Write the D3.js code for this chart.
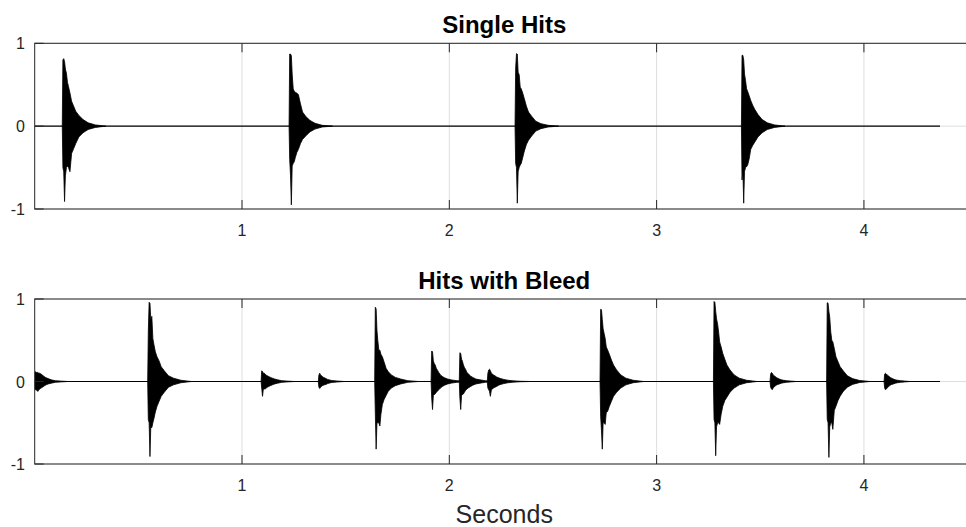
<!DOCTYPE html>
<html>
<head>
<meta charset="utf-8">
<script src="https://cdn.jsdelivr.net/npm/d3@7"></script>
<style>
  body { margin: 0; background: #fff; }
  text { font-family: "Liberation Sans", Arial, Helvetica, sans-serif; fill: #262626; }
</style>
</head>
<body>
<div id="chart-div"></div>
<script>
const offsets = [0, 0.003, 0.007, 0.011, 0.015, 0.02, 0.025, 0.03, 0.037, 0.045, 0.055, 0.065, 0.08, 0.1, 0.125, 0.16, 0.21];

const singleOnsets = [0.133, 1.227, 2.317, 3.409];
const singleUpper = [
  [0, 0.80, 0.815, 0.78, 0.69, 0.64, 0.53, 0.48, 0.40, 0.30, 0.24, 0.18, 0.13, 0.08, 0.04, 0.015, 0],
  [0, 0.87, 0.87, 0.85, 0.63, 0.45, 0.42, 0.41, 0.40, 0.38, 0.27, 0.17, 0.12, 0.07, 0.035, 0.01, 0],
  [0, 0.70, 0.875, 0.87, 0.65, 0.62, 0.47, 0.45, 0.40, 0.33, 0.24, 0.17, 0.12, 0.06, 0.03, 0.01, 0],
  [0, 0.855, 0.855, 0.80, 0.63, 0.55, 0.45, 0.42, 0.37, 0.31, 0.25, 0.20, 0.14, 0.08, 0.04, 0.015, 0]
];
const singleLower = [
  [0, -0.50, -0.55, -0.91, -0.60, -0.50, -0.48, -0.50, -0.55, -0.33, -0.27, -0.21, -0.13, -0.08, -0.04, -0.015, 0],
  [0, -0.40, -0.60, -0.95, -0.48, -0.45, -0.43, -0.38, -0.32, -0.28, -0.21, -0.16, -0.12, -0.07, -0.035, -0.01, 0],
  [0, -0.45, -0.50, -0.93, -0.55, -0.50, -0.47, -0.45, -0.38, -0.30, -0.22, -0.17, -0.12, -0.06, -0.03, -0.01, 0],
  [0, -0.65, -0.53, -0.93, -0.55, -0.50, -0.49, -0.47, -0.40, -0.28, -0.23, -0.19, -0.13, -0.08, -0.04, -0.015, 0]
];

const bleedOnsets = [0, 0.545, 1.092, 1.368, 1.640, 1.912, 2.048, 2.183, 2.727, 3.274, 3.547, 3.820, 4.097];
const bleedUpper = [
  [0.12, 0.12, 0.11, 0.11, 0.11, 0.10, 0.10, 0.09, 0.08, 0.06, 0.045, 0.035, 0.02, 0.01, 0.005, 0, 0],
  [0, 0.60, 0.96, 0.95, 0.75, 0.79, 0.52, 0.45, 0.36, 0.30, 0.25, 0.18, 0.13, 0.07, 0.04, 0.015, 0],
  [0, 0.13, 0.12, 0.10, 0.10, 0.09, 0.075, 0.07, 0.06, 0.05, 0.04, 0.03, 0.02, 0.01, 0.005, 0, 0],
  [0, 0.08, 0.10, 0.08, 0.07, 0.06, 0.05, 0.045, 0.035, 0.025, 0.018, 0.012, 0.008, 0.004, 0, 0, 0],
  [0, 0.90, 0.88, 0.62, 0.50, 0.38, 0.38, 0.33, 0.30, 0.24, 0.16, 0.12, 0.08, 0.05, 0.03, 0.01, 0],
  [0, 0.37, 0.36, 0.25, 0.22, 0.20, 0.16, 0.14, 0.11, 0.08, 0.06, 0.045, 0.03, 0.018, 0.01, 0.004, 0],
  [0, 0.35, 0.34, 0.27, 0.25, 0.20, 0.17, 0.15, 0.11, 0.09, 0.065, 0.05, 0.03, 0.02, 0.01, 0.004, 0],
  [0, 0.10, 0.14, 0.15, 0.13, 0.10, 0.09, 0.08, 0.07, 0.055, 0.045, 0.035, 0.025, 0.015, 0.008, 0.003, 0],
  [0, 0.875, 0.87, 0.75, 0.64, 0.58, 0.52, 0.42, 0.38, 0.33, 0.26, 0.20, 0.14, 0.08, 0.04, 0.015, 0],
  [0, 0.97, 0.96, 0.85, 0.76, 0.70, 0.60, 0.48, 0.42, 0.34, 0.27, 0.20, 0.14, 0.08, 0.04, 0.015, 0],
  [0, 0.09, 0.11, 0.10, 0.08, 0.07, 0.06, 0.05, 0.04, 0.03, 0.02, 0.015, 0.01, 0.005, 0, 0, 0],
  [0, 0.955, 0.95, 0.85, 0.78, 0.60, 0.50, 0.48, 0.40, 0.30, 0.24, 0.18, 0.13, 0.07, 0.035, 0.012, 0],
  [0, 0.09, 0.10, 0.09, 0.08, 0.07, 0.06, 0.05, 0.04, 0.03, 0.02, 0.015, 0.01, 0.005, 0, 0, 0]
];
const bleedLower = [
  [-0.08, -0.10, -0.10, -0.11, -0.12, -0.10, -0.09, -0.08, -0.07, -0.055, -0.04, -0.03, -0.02, -0.01, -0.005, 0, 0],
  [0, -0.46, -0.50, -0.91, -0.55, -0.56, -0.50, -0.45, -0.37, -0.30, -0.24, -0.18, -0.13, -0.07, -0.04, -0.015, 0],
  [0, -0.08, -0.18, -0.09, -0.09, -0.09, -0.08, -0.07, -0.06, -0.05, -0.04, -0.03, -0.02, -0.01, -0.005, 0, 0],
  [0, -0.07, -0.085, -0.07, -0.06, -0.05, -0.045, -0.04, -0.035, -0.025, -0.018, -0.012, -0.008, -0.004, 0, 0, 0],
  [0, -0.38, -0.82, -0.50, -0.50, -0.50, -0.54, -0.40, -0.28, -0.22, -0.17, -0.12, -0.08, -0.05, -0.03, -0.01, 0],
  [0, -0.20, -0.34, -0.17, -0.16, -0.15, -0.13, -0.12, -0.10, -0.08, -0.06, -0.045, -0.03, -0.018, -0.01, -0.004, 0],
  [0, -0.20, -0.34, -0.17, -0.16, -0.15, -0.13, -0.11, -0.09, -0.075, -0.06, -0.045, -0.03, -0.02, -0.01, -0.004, 0],
  [0, -0.08, -0.10, -0.12, -0.18, -0.10, -0.09, -0.08, -0.07, -0.06, -0.045, -0.035, -0.025, -0.015, -0.008, -0.003, 0],
  [0, -0.42, -0.60, -0.82, -0.50, -0.50, -0.52, -0.38, -0.36, -0.30, -0.24, -0.18, -0.13, -0.08, -0.04, -0.015, 0],
  [0, -0.46, -0.50, -0.90, -0.55, -0.50, -0.50, -0.52, -0.40, -0.30, -0.23, -0.19, -0.13, -0.08, -0.04, -0.015, 0],
  [0, -0.07, -0.09, -0.10, -0.08, -0.065, -0.055, -0.045, -0.035, -0.03, -0.02, -0.015, -0.01, -0.005, 0, 0, 0],
  [0, -0.46, -0.50, -0.92, -0.55, -0.50, -0.50, -0.58, -0.35, -0.30, -0.23, -0.18, -0.12, -0.07, -0.035, -0.012, 0],
  [0, -0.08, -0.10, -0.09, -0.08, -0.065, -0.055, -0.045, -0.035, -0.03, -0.02, -0.015, -0.01, -0.005, 0, 0, 0]
];

const signalEnd = 4.367;
const xTicks = [1, 2, 3, 4];
const yTicks = [-1, 0, 1];

/* size of the svg and the two axes boxes */
const width = 966;
const height = 527;
const left = 34.7;
const right = 973.8;
const panels = [
  { title: "Single Hits", top: 43.3, bottom: 209, onsets: singleOnsets, upper: singleUpper, lower: singleLower },
  { title: "Hits with Bleed", top: 299, bottom: 464, onsets: bleedOnsets, upper: bleedUpper, lower: bleedLower }
];

const xScale = d3.scaleLinear().domain([0, 4.53]).range([left, right]);

const svg = d3.select("#chart-div")
              .append("svg")
              .attr("width", width)
              .attr("height", height);

panels.forEach((p, k) => {
  const yScale = d3.scaleLinear().domain([-1, 1]).range([p.bottom, p.top]);
  const g = svg.append("g");

  g.append("clipPath").attr("id", "clip" + k)
   .append("rect")
   .attr("x", left).attr("y", p.top)
   .attr("width", right - left).attr("height", p.bottom - p.top);

  // grid lines under the data
  g.selectAll(".xgrid")
   .data(xTicks)
   .enter()
   .append("line")
   .attr("x1", (d) => xScale(d)).attr("x2", (d) => xScale(d))
   .attr("y1", p.top).attr("y2", p.bottom)
   .attr("stroke", "#dedede").attr("stroke-width", 1);
  g.selectAll(".ygrid")
   .data(yTicks)
   .enter()
   .append("line")
   .attr("x1", left).attr("x2", right)
   .attr("y1", (d) => yScale(d)).attr("y2", (d) => yScale(d))
   .attr("stroke", "#dedede").attr("stroke-width", 1);

  const plot = g.append("g").attr("clip-path", `url(#clip${k})`);

  // quiet part of the signal
  plot.append("line")
      .attr("x1", xScale(0)).attr("x2", xScale(signalEnd))
      .attr("y1", yScale(0)).attr("y2", yScale(0))
      .attr("stroke", "#000").attr("stroke-width", 1.2);

  const area = d3.area()
                 .x((d) => xScale(d.t))
                 .y0((d) => yScale(d.lo))
                 .y1((d) => yScale(d.hi));

  const hits = p.onsets.map((t0, i) => offsets.map((o, j) => ({ t: t0 + o, hi: p.upper[i][j], lo: p.lower[i][j] })));

  plot.selectAll("path.hit")
      .data(hits)
      .enter()
      .append("path")
      .attr("class", "hit")
      .attr("d", area)
      .attr("fill", "#000")
      .attr("stroke", "#000")
      .attr("stroke-width", 0.8)
      .attr("stroke-linejoin", "miter");

  // box
  g.append("rect")
   .attr("x", left).attr("y", p.top)
   .attr("width", right - left).attr("height", p.bottom - p.top)
   .attr("fill", "none").attr("stroke", "#262626").attr("stroke-width", 1);

  // tick marks inside the box
  g.selectAll(".xtick")
   .data(xTicks)
   .enter()
   .append("path")
   .attr("d", (d) => `M${xScale(d)},${p.bottom}v-9M${xScale(d)},${p.top}v9`)
   .attr("stroke", "#262626").attr("stroke-width", 1);
  g.selectAll(".ytick")
   .data(yTicks)
   .enter()
   .append("path")
   .attr("d", (d) => `M${left},${yScale(d)}h9`)
   .attr("stroke", "#262626").attr("stroke-width", 1);

  // tick labels
  g.selectAll(".xlab")
   .data(xTicks)
   .enter()
   .append("text")
   .attr("x", (d) => xScale(d))
   .attr("y", p.bottom + 27)
   .attr("text-anchor", "middle")
   .style("font-size", "16px")
   .text((d) => d);
  g.selectAll(".ylab")
   .data(yTicks)
   .enter()
   .append("text")
   .attr("x", 25)
   .attr("y", (d) => yScale(d) + 6)
   .attr("text-anchor", "end")
   .style("font-size", "16px")
   .text((d) => d);

  g.append("text")
   .attr("x", (left + right) / 2)
   .attr("y", p.top - 10)
   .attr("text-anchor", "middle")
   .style("font-size", "24px")
   .style("font-weight", "bold")
   .style("fill", "#000")
   .text(p.title);
});

svg.append("text")
   .attr("x", (left + right) / 2)
   .attr("y", 523)
   .attr("text-anchor", "middle")
   .style("font-size", "25px")
   .text("Seconds");
</script>
</body>
</html>
